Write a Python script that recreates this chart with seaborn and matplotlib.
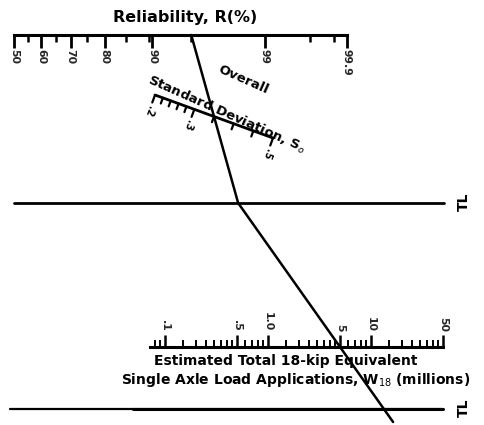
import math
import numpy as np
import matplotlib
matplotlib.use("Agg")
import matplotlib.pyplot as plt
import seaborn as sns

# ---- scale values -------------------------------------------------------
rel_labels = [50, 60, 70, 80, 90, 99, 99.9]
rel_minor = [55, 65, 75, 85, 89.5, 95, 99.7, 99.85]

so_labels = [0.2, 0.3, 0.5]
so_ticks = [0.2, 0.22, 0.24, 0.26, 0.28, 0.3, 0.35, 0.4, 0.45, 0.5]
so_range = (0.2, 0.5)

w18_labels = [0.1, 0.5, 1, 5, 10, 50]
w18_label_text = [".1", ".5", "1.0", "5", "10", "50"]
w18_minor = [0.08, 0.09, 0.15, 0.2, 0.25, 0.3, 0.35, 0.4, 0.45,
             0.6, 0.7, 0.8, 0.9, 1.5, 2, 2.5, 3, 3.5, 4, 4.5,
             6, 7, 8, 9, 15, 20, 25, 30, 35, 40, 45]

# design inputs
R_design = 95
So_design = 0.35
W18_design = 5

# ---- normal probability helpers for the reliability scale --------------
_erf = np.vectorize(math.erf, otypes=[float])


def phi(z):
    return 0.5 * (1.0 + _erf(np.asarray(z, float) / math.sqrt(2.0)))


def ppf(p):
    p = np.clip(np.asarray(p, float), 1e-12, 1 - 1e-12)
    lo = np.full(p.shape, -10.0)
    hi = np.full(p.shape, 10.0)
    for _ in range(70):
        mid = 0.5 * (lo + hi)
        below = phi(mid) < p
        lo = np.where(below, mid, lo)
        hi = np.where(below, hi, mid)
    return 0.5 * (lo + hi)


def rel_fwd(r):
    return ppf(np.asarray(r, float) / 100.0)


def rel_inv(z):
    return 100.0 * phi(z)


# ---- figure ---------------------------------------------------------------
sns.set_theme(style="white")
plt.rcParams["font.family"] = ["DejaVu Sans"]
W, H = 484, 425
fig = plt.figure(figsize=(W / 100, H / 100), dpi=100)
fig.patch.set_facecolor("white")

ax = fig.add_axes([0, 0, 1, 1])
ax.set_xlim(0, W)
ax.set_ylim(H, 0)
ax.axis("off")

BOLD = dict(fontweight="bold", color="black")

# Reliability axis
rel_y, rel_x0, rel_x1 = 35, 14, 347
axR = fig.add_axes([rel_x0 / W, (H - rel_y) / H, (rel_x1 - rel_x0) / W, 0.02])
axR.set_xscale("function", functions=(rel_fwd, rel_inv))
axR.set_xlim(rel_labels[0], rel_labels[-1])
axR.patch.set_visible(False)
for s in ("top", "left", "right"):
    axR.spines[s].set_visible(False)
axR.spines["bottom"].set_linewidth(2.2)
axR.spines["bottom"].set_color("black")
axR.set_yticks([])
axR.set_xticks(rel_labels)
axR.set_xticklabels([f"{v:g}" for v in rel_labels])
axR.set_xticks(rel_minor, minor=True)
axR.set_xticklabels([], minor=True)
axR.tick_params(axis="x", which="both", bottom=True, top=False)
axR.tick_params(axis="x", which="major", direction="out", length=9, width=2,
                color="black", pad=1, labelsize=7.8, labelrotation=270)
axR.tick_params(axis="x", which="minor", direction="out", length=5, width=1.8,
                color="black")
for t in axR.get_xticklabels():
    t.set_fontweight("bold")

ax.text(185, 17, "Reliability, R(%)", ha="center", va="center", fontsize=11.5, **BOLD)

# Overall standard deviation axis (slanted)
so_p0 = np.array([155.0, 95.0])
so_p1 = np.array([273.0, 138.0])
so_dir = (so_p1 - so_p0) / np.linalg.norm(so_p1 - so_p0)
so_perp = np.array([-so_dir[1], so_dir[0]])
so_ang = -math.degrees(math.atan2(so_dir[1], so_dir[0]))


def so_pos(v):
    f = (v - so_range[0]) / (so_range[1] - so_range[0])
    return so_p0 + f * (so_p1 - so_p0)


ax.plot([so_p0[0], so_p1[0]], [so_p0[1], so_p1[1]], color="black", lw=2)
for v in so_ticks:
    p = so_pos(v)
    ln = 8 if v in so_labels else 6
    q = p + ln * so_perp
    ax.plot([p[0], q[0]], [p[1], q[1]], color="black", lw=1.6)
for v in so_labels:
    p = so_pos(v) + 17 * so_perp
    ax.text(p[0], p[1], f"{v:g}".lstrip("0"), ha="center", va="center",
            fontsize=7, rotation=so_ang - 90, **BOLD)

ax.text(243, 80, "Overall", ha="center", va="center", fontsize=9.5,
        rotation=-24, **BOLD)
ax.text(227, 114, "Standard Deviation, S$_o$", ha="center", va="center",
        fontsize=9.5, rotation=-24, **BOLD)

# Turning lines
tl1_y, tl2_y = 203, 409
ax.plot([14, 444], [tl1_y, tl1_y], color="black", lw=2)
ax.plot([10, 443], [tl2_y, tl2_y], color="black", lw=1.6)
ax.plot([133, 443], [tl2_y, tl2_y], color="black", lw=2.2)
for yy in (tl1_y, tl2_y):
    ax.text(464, yy - 1, "TL", ha="center", va="center", fontsize=10,
            rotation=90, **BOLD)

# W18 axis (log scale)
w_y, w_x0, w_x1 = 347, 150, 443
axW = fig.add_axes([w_x0 / W, (H - w_y) / H - 0.02, (w_x1 - w_x0) / W, 0.02])
axW.set_xscale("log")
axW.set_xlim(0.0714, 50)
axW.patch.set_visible(False)
for s in ("bottom", "left", "right"):
    axW.spines[s].set_visible(False)
axW.spines["top"].set_linewidth(2.2)
axW.spines["top"].set_color("black")
axW.set_yticks([])
axW.xaxis.tick_top()
axW.set_xticks(w18_labels)
axW.set_xticklabels(w18_label_text)
axW.set_xticks(w18_minor, minor=True)
axW.set_xticklabels([], minor=True)
axW.tick_params(axis="x", which="both", top=True, bottom=False)
axW.tick_params(axis="x", which="major", direction="out", length=9, width=1.8,
                color="black", pad=2, labelsize=7.8, labelrotation=270)
axW.tick_params(axis="x", which="minor", direction="out", length=5, width=1.4,
                color="black")
for t in axW.get_xticklabels():
    t.set_fontweight("bold")

ax.text(286, 361, "Estimated Total 18-kip Equivalent", ha="center", va="center",
        fontsize=10, **BOLD)
ax.text(296, 380, "Single Axle Load Applications, W$_{18}$ (millions)",
        ha="center", va="center", fontsize=10, **BOLD)

# ---- solution path ---------------------------------------------------------
to_main = ax.transData.inverted()
pR = to_main.transform(axR.transData.transform((R_design, 0)))
pS = so_pos(So_design)
t1 = (tl1_y - pR[1]) / (pS[1] - pR[1])
pT1 = pR + t1 * (pS - pR)
pW = to_main.transform(axW.transData.transform((W18_design, 1)))
t2 = (422 - pT1[1]) / (pW[1] - pT1[1])
pEnd = pT1 + t2 * (pW - pT1)

path_x = [pR[0], pT1[0], pEnd[0]]
path_y = [pR[1], pT1[1], pEnd[1]]
sns.lineplot(x=path_x, y=path_y, ax=ax, color="black", lw=1.8, sort=False,
             estimator=None)

fig.savefig("out.png", dpi=100, facecolor="white")
